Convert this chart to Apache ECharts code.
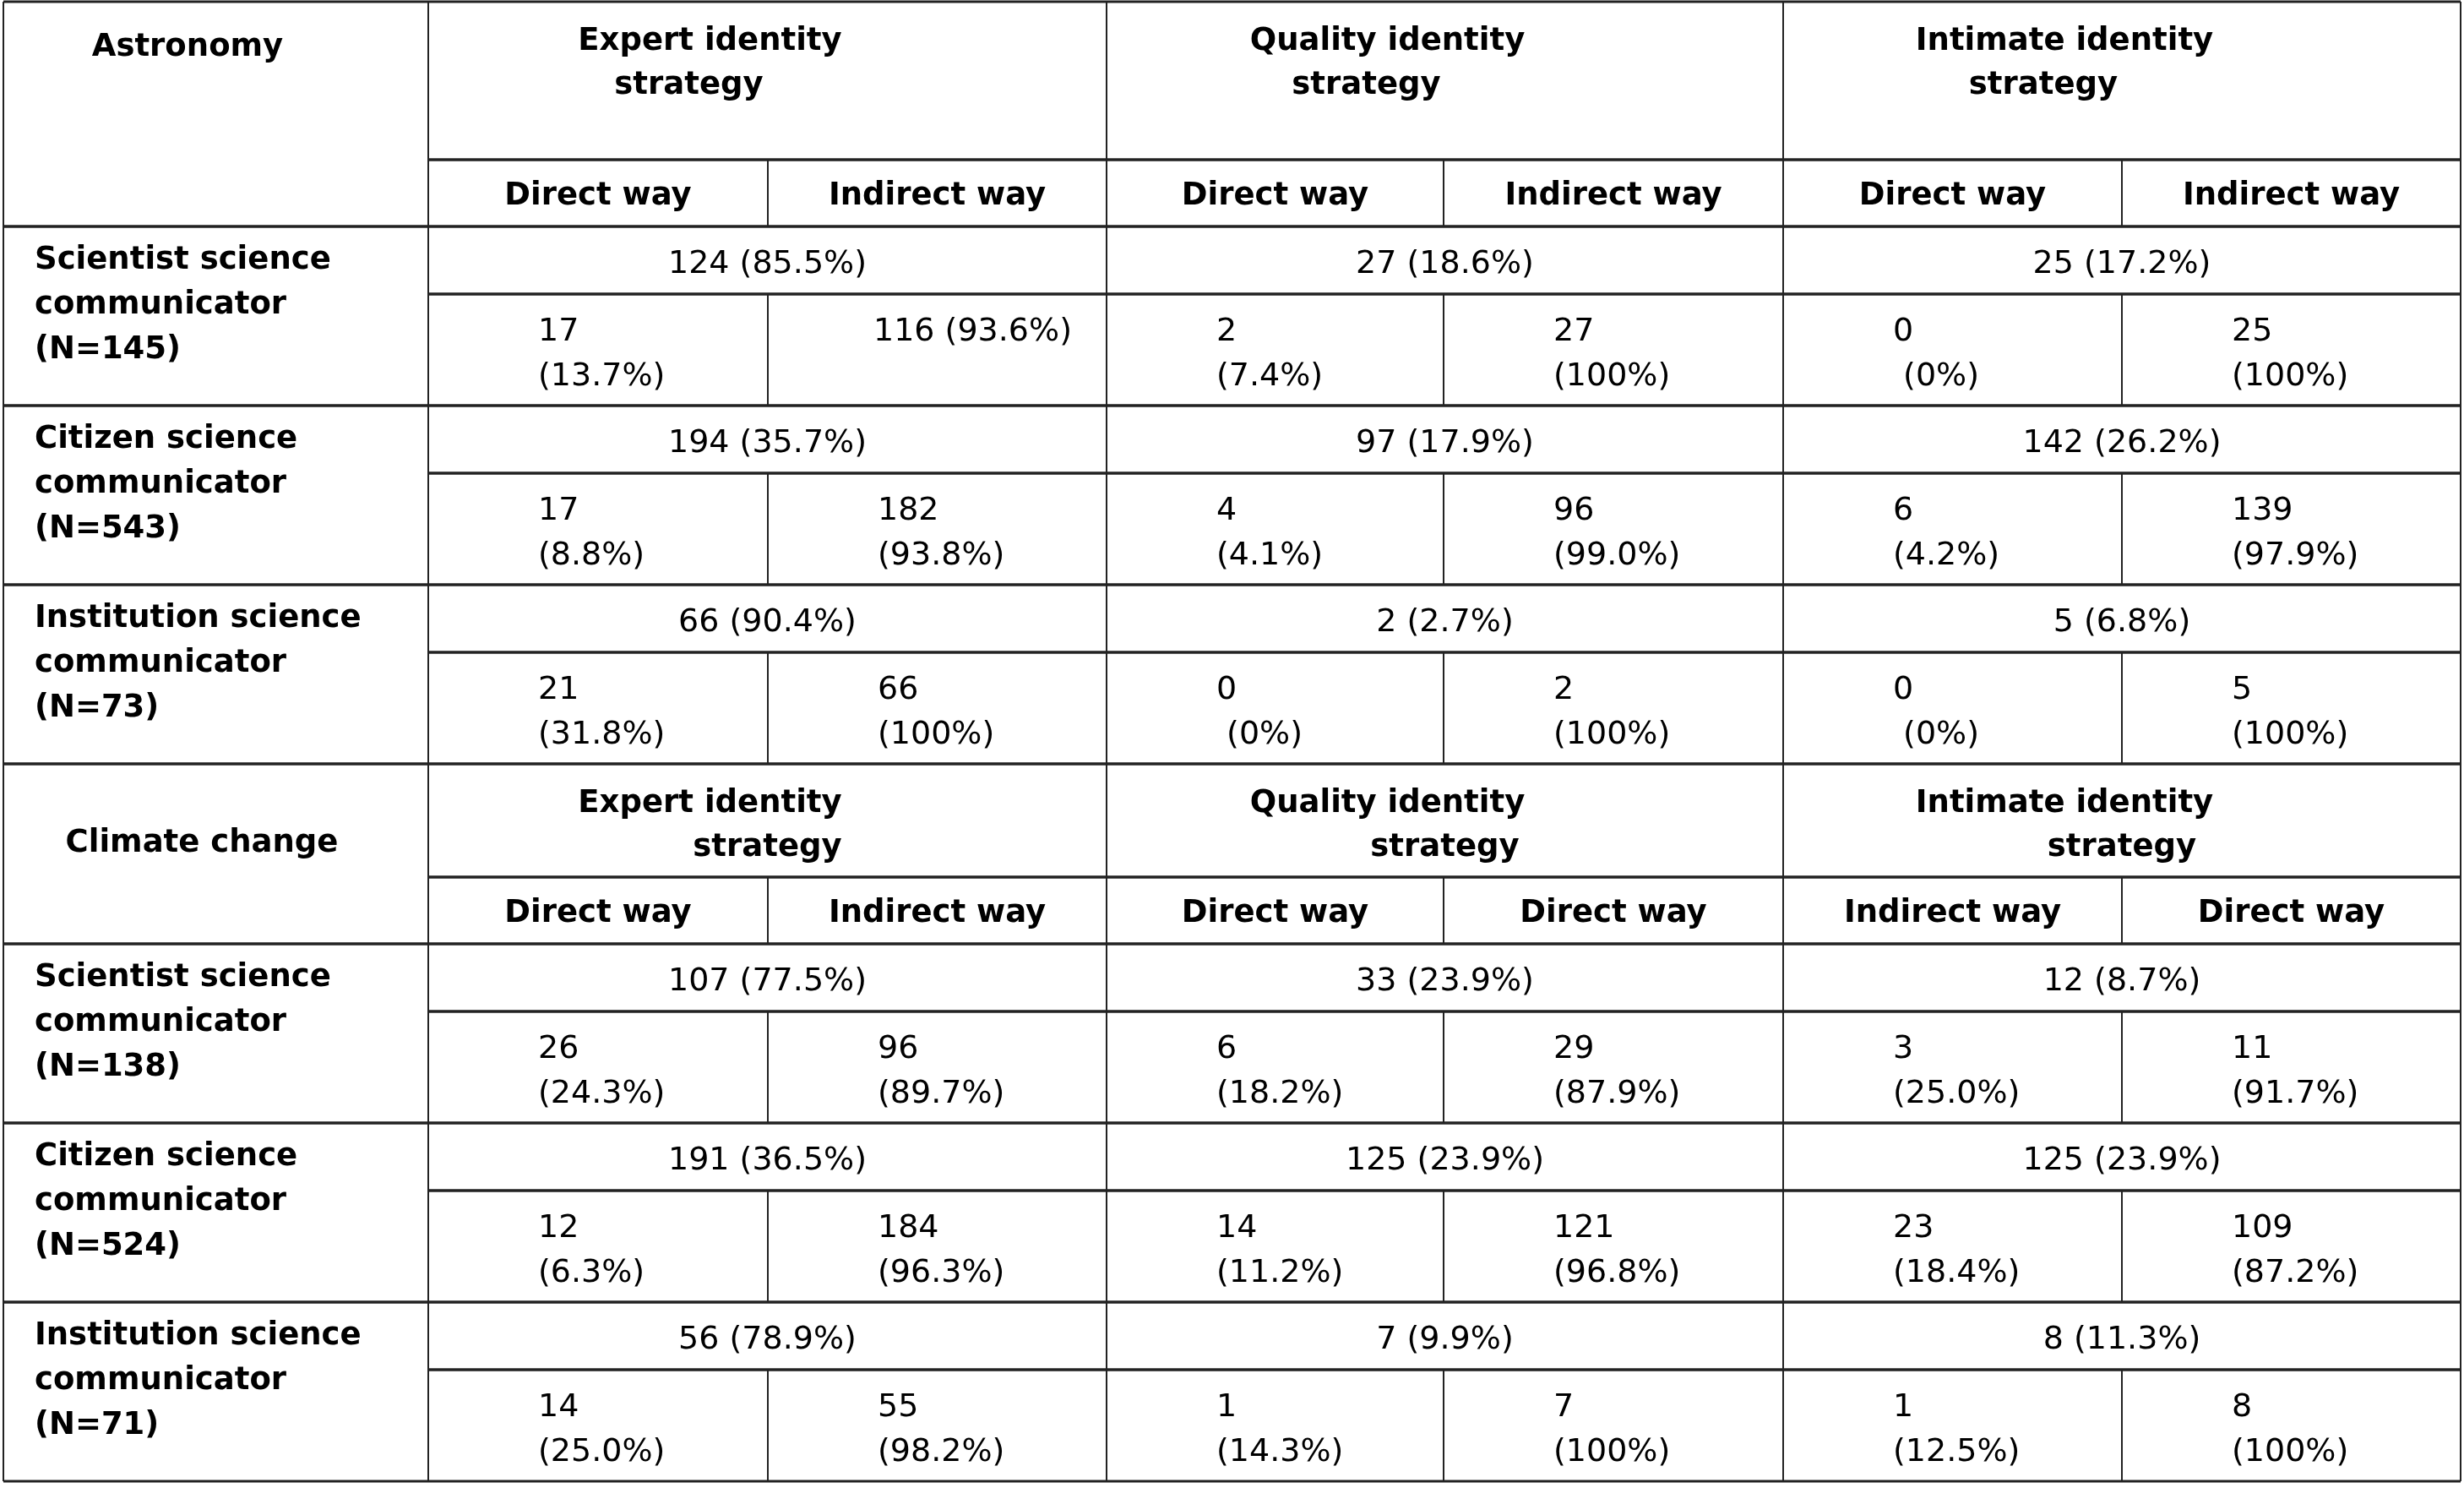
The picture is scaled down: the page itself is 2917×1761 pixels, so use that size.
<!DOCTYPE html>
<html><head><meta charset="utf-8">
<script src="https://cdn.jsdelivr.net/npm/echarts/dist/echarts.min.js"></script>
<style>html,body{margin:0;padding:0;background:#fff}#c{width:2917px;height:1761px}</style>
</head><body><div id="c"></div>
<script>
// ---------------- data ----------------
const blockNames = ['Astronomy', 'Climate change'];
const strategyNames = ['Expert identity', 'Quality identity', 'Intimate identity'];
const strategyWord = 'strategy';
const wayLabels = [
  ['Direct way', 'Indirect way', 'Direct way', 'Indirect way', 'Direct way', 'Indirect way'],
  ['Direct way', 'Indirect way', 'Direct way', 'Direct way', 'Indirect way', 'Direct way']
];
const roleNames = ['Scientist science', 'Citizen science', 'Institution science'];
const roleWord = 'communicator';
const astroN = [145, 543, 73];
const climN = [138, 524, 71];

const astroTotalCount = [[124, 27, 25], [194, 97, 142], [66, 2, 5]];
const astroTotalPct = [[85.5, 18.6, 17.2], [35.7, 17.9, 26.2], [90.4, 2.7, 6.8]];
const astroSplitCount = [[17, 116, 2, 27, 0, 25], [17, 182, 4, 96, 6, 139], [21, 66, 0, 2, 0, 5]];
const astroSplitPct = [[13.7, 93.6, 7.4, 100, 0, 100], [8.8, 93.8, 4.1, 99.0, 4.2, 97.9], [31.8, 100, 0, 100, 0, 100]];

const climTotalCount = [[107, 33, 12], [191, 125, 125], [56, 7, 8]];
const climTotalPct = [[77.5, 23.9, 8.7], [36.5, 23.9, 23.9], [78.9, 9.9, 11.3]];
const climSplitCount = [[26, 96, 6, 29, 3, 11], [12, 184, 14, 121, 23, 109], [14, 55, 1, 7, 1, 8]];
const climSplitPct = [[24.3, 89.7, 18.2, 87.9, 25.0, 91.7], [6.3, 96.3, 11.2, 96.8, 18.4, 87.2], [25.0, 98.2, 14.3, 100, 12.5, 100]];

// ---------------- layout ----------------
const W = 2917, H = 1761;
const X = [4, 507, 909, 1310, 1709, 2111, 2512, 2913];
const blockTop = [2, 904];
const headH = [187, 134], subH = 79, totH = 80, splitH = 132;
const cornerPos = [[222, 54], [239, 94]];   // center x, middle y offset
const line2Offset = [-93, 0];
const oneLine = [[0, 0, 1]]; // block,row,col shown on one line

const BOLD = 'bold 37px "DejaVu Sans"';
const REG = '38px "DejaVu Sans"';

const fmt = p => (p === 100 || p === 0) ? String(p) : p.toFixed(1);

const blocks = [
  {n: astroN, tc: astroTotalCount, tp: astroTotalPct, sc: astroSplitCount, sp: astroSplitPct},
  {n: climN, tc: climTotalCount, tp: climTotalPct, sc: climSplitCount, sp: climSplitPct}
];

const cells = [];
blocks.forEach((B, b) => {
  const top = blockTop[b];
  const y1 = top + headH[b];
  const y2 = y1 + subH;
  cells.push({box: [X[0], top, X[1], y2], texts: [
    {t: blockNames[b], x: cornerPos[b][0], y: top + cornerPos[b][1], a: 'center', f: BOLD}]});
  for (let s = 0; s < 3; s++) {
    const cx = (X[1 + 2 * s] + X[3 + 2 * s]) / 2;
    cells.push({box: [X[1 + 2 * s], top, X[3 + 2 * s], y1], texts: [
      {t: strategyNames[s], x: cx - 68, y: top + 47, a: 'center', f: BOLD},
      {t: strategyWord, x: cx + line2Offset[b], y: top + 99, a: 'center', f: BOLD}]});
  }
  for (let k = 0; k < 6; k++) {
    cells.push({box: [X[1 + k], y1, X[2 + k], y2], texts: [
      {t: wayLabels[b][k], x: (X[1 + k] + X[2 + k]) / 2, y: (y1 + y2) / 2 + 4, a: 'center', f: BOLD}]});
  }
  for (let g = 0; g < 3; g++) {
    const gy = y2 + g * (totH + splitH);
    cells.push({box: [X[0], gy, X[1], gy + totH + splitH], texts: [
      {t: roleNames[g], x: X[0] + 37, y: gy + 40, a: 'left', f: BOLD},
      {t: roleWord, x: X[0] + 37, y: gy + 93, a: 'left', f: BOLD},
      {t: '(N=' + B.n[g] + ')', x: X[0] + 37, y: gy + 146, a: 'left', f: BOLD}]});
    for (let s = 0; s < 3; s++) {
      cells.push({box: [X[1 + 2 * s], gy, X[3 + 2 * s], gy + totH], texts: [
        {t: B.tc[g][s] + ' (' + fmt(B.tp[g][s]) + '%)', x: (X[1 + 2 * s] + X[3 + 2 * s]) / 2, y: gy + totH / 2 + 5, a: 'center', f: REG}]});
    }
    for (let k = 0; k < 6; k++) {
      const sy = gy + totH;
      const cnt = B.sc[g][k], pct = fmt(B.sp[g][k]);
      const single = oneLine.some(o => o[0] === b && o[1] === g && o[2] === k);
      const texts = single
        ? [{t: cnt + ' (' + pct + '%)', x: X[1 + k] + 125, y: sy + 45, a: 'left', f: REG}]
        : [{t: String(cnt), x: X[1 + k] + 130, y: sy + 45, a: 'left', f: REG},
           {t: (cnt === 0 ? ' ' : '') + '(' + pct + '%)', x: X[1 + k] + 130, y: sy + 98, a: 'left', f: REG}];
      cells.push({box: [X[1 + k], sy, X[2 + k], sy + splitH], texts});
    }
  }
});

const chart = echarts.init(document.getElementById('c'), null, {renderer: 'canvas'});
chart.setOption({
  animation: false,
  backgroundColor: '#ffffff',
  grid: {left: 0, right: 0, top: 0, bottom: 0},
  xAxis: {type: 'value', min: 0, max: W, show: false},
  yAxis: {type: 'value', min: 0, max: H, inverse: true, show: false},
  series: [{
    type: 'custom',
    coordinateSystem: 'cartesian2d',
    clip: false,
    silent: true,
    data: cells.map(c => c.box),
    renderItem: function (params, api) {
      const c = cells[params.dataIndex];
      const p0 = api.coord([api.value(0), api.value(1)]);
      const p1 = api.coord([api.value(2), api.value(3)]);
      const hs = {stroke: '#222', lineWidth: 3};
      const vs = {stroke: '#222', lineWidth: 2};
      const children = [
        {type: 'line', shape: {x1: p0[0], y1: p0[1], x2: p1[0], y2: p0[1]}, style: hs},
        {type: 'line', shape: {x1: p0[0], y1: p1[1], x2: p1[0], y2: p1[1]}, style: hs},
        {type: 'line', shape: {x1: p0[0], y1: p0[1], x2: p0[0], y2: p1[1]}, style: vs},
        {type: 'line', shape: {x1: p1[0], y1: p0[1], x2: p1[0], y2: p1[1]}, style: vs}
      ];
      c.texts.forEach(t => {
        const p = api.coord([t.x, t.y]);
        children.push({type: 'text', style: {
          text: t.t, x: p[0], y: p[1], fill: '#000', font: t.f,
          align: t.a, verticalAlign: 'middle'
        }});
      });
      return {type: 'group', children};
    }
  }]
});
</script></body></html>
